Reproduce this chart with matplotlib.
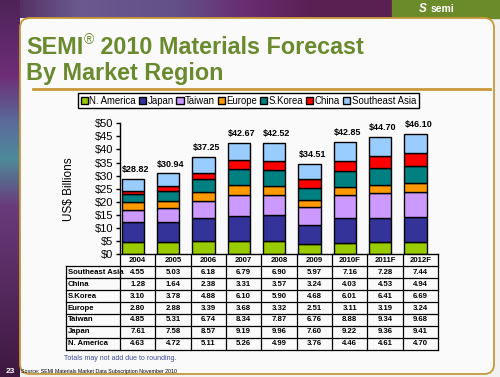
import numpy as np
import matplotlib.pyplot as plt
from matplotlib.patches import FancyBboxPatch, Rectangle
from matplotlib.colors import to_rgb

plt.rcParams['font.family'] = ['Liberation Sans', 'DejaVu Sans']

# data (US$ billions)
years = ['2004', '2005', '2006', '2007', '2008', '2009', '2010F', '2011F', '2012F']
n_america = [4.63, 4.72, 5.11, 5.26, 4.99, 3.76, 4.46, 4.61, 4.70]
japan = [7.61, 7.58, 8.57, 9.19, 9.96, 7.60, 9.22, 9.36, 9.41]
taiwan = [4.85, 5.31, 6.74, 8.34, 7.87, 6.76, 8.88, 9.34, 9.68]
europe = [2.80, 2.88, 3.39, 3.68, 3.32, 2.51, 3.11, 3.19, 3.24]
s_korea = [3.10, 3.78, 4.88, 6.10, 5.90, 4.68, 6.01, 6.41, 6.69]
china = [1.28, 1.64, 2.38, 3.31, 3.57, 3.24, 4.03, 4.53, 4.94]
se_asia = [4.55, 5.03, 6.18, 6.79, 6.90, 5.97, 7.16, 7.28, 7.44]
totals = [28.82, 30.94, 37.25, 42.67, 42.52, 34.51, 42.85, 44.70, 46.10]

regions = ['N. America', 'Japan', 'Taiwan', 'Europe', 'S.Korea', 'China', 'Southeast Asia']
series = [n_america, japan, taiwan, europe, s_korea, china, se_asia]
colors = ['#99cc00', '#333399', '#cc99ff', '#ff9900', '#008080', '#ff0000', '#99ccff']
yticks = [0, 5, 10, 15, 20, 25, 30, 35, 40, 45, 50]

fig = plt.figure(figsize=(5, 3.77), dpi=100)
fig.patch.set_facecolor('#f2f2f2')

# background slide (pixel coords)
bg = fig.add_axes([0, 0, 1, 1], zorder=0)
bg.axis('off')

def gradient(stops, n):
    pos = [s[0] for s in stops]
    cols = np.array([to_rgb(s[1]) for s in stops])
    t = np.linspace(0, 1, n)
    return np.stack([np.interp(t, pos, cols[:, k]) for k in range(3)], axis=-1)

top = gradient([(0, '#4e2458'), (0.2, '#6a5a8e'), (0.45, '#62508a'),
                (0.62, '#6a2e72'), (0.8, '#5a2052'), (1, '#5a2052')], 400)
bg.imshow(top[None, :, :], extent=(0, 392, 18, 0), aspect='auto')
left = gradient([(0, '#4e2458'), (0.2, '#6e2e78'), (0.32, '#5a6a9a'),
                 (0.42, '#4e8a9a'), (0.55, '#6a3a7a'), (1, '#3e1840')], 400)
bg.imshow(left[:, None, :], extent=(0, 20, 377, 0), aspect='auto')
bg.add_patch(Rectangle((392, 0), 108, 18, color='#6b8a2a'))
bg.add_patch(FancyBboxPatch((20, 18), 474, 356, boxstyle='round,pad=0,rounding_size=10',
                            fc='#fafafa', ec='#c8983a', lw=1.3))
bg.set_xlim(0, 500)
bg.set_ylim(377, 0)

# logo
bg.text(431, 8.5, 'semi', color='white', fontsize=7.5, fontweight='bold', ha='left', va='center')
bg.text(423, 8.5, 'S', color='white', fontsize=8.5, fontweight='bold', style='italic', ha='center', va='center')

# title
green = '#6a8a2e'
r = fig.canvas.get_renderer()
t1 = bg.text(26, 54, 'SEMI', fontsize=16.8, fontweight='bold', color=green, va='baseline')
x1 = t1.get_window_extent(r).x1
t2 = bg.text(x1 + 0.5, 44, '®', fontsize=10, color=green, va='baseline')
x2 = t2.get_window_extent(r).x1
bg.text(x2, 54, ' 2010 Materials Forecast', fontsize=16.8, fontweight='bold', color=green, va='baseline')
bg.text(26, 80, 'By Market Region', fontsize=16.8, fontweight='bold', color=green, va='baseline')
bg.plot([33, 490], [89, 89], color='#c8983a', lw=2)

# chart
ax = fig.add_axes([120 / 500, 1 - 254.3 / 377, 318 / 500, 131 / 377], zorder=2)
ax.patch.set_visible(False)
x = np.arange(len(years))
bottom = np.zeros(len(years))
for vals, c, name in zip(series, colors, regions):
    ax.bar(x - 0.14, vals, 0.63, bottom=bottom, color=c, edgecolor='black', lw=1, label=name)
    bottom += np.array(vals)
for xi, top_v, tot in zip(x, bottom, totals):
    ax.text(xi - 0.06, top_v + 1.8, '$%.2f' % tot, ha='center', va='bottom', fontsize=6.5,
            fontweight='bold')
ax.set_xlim(-0.5, len(years) - 0.5)
ax.set_ylim(0, 50)
ax.set_yticks(yticks)
ax.set_yticklabels(['$%d' % v for v in yticks], fontsize=8)
ax.set_xticks([])
ax.tick_params(axis='y', length=3, width=1, pad=2)
for s in ['top', 'right']:
    ax.spines[s].set_visible(False)
ax.spines['left'].set_linewidth(1)
ax.spines['bottom'].set_linewidth(1)
ax.set_ylabel('US$ Billions', fontsize=8.5, labelpad=14)

leg = ax.legend(loc='center', bbox_to_anchor=(248.3 / 500, 1 - 100.5 / 377), bbox_transform=fig.transFigure,
                ncol=7, fontsize=6.9, handlelength=0.75, handleheight=0.8, handletextpad=0.15,
                columnspacing=0.3, borderpad=0.3, borderaxespad=0, fancybox=False, framealpha=1,
                edgecolor='black')
leg.get_frame().set_linewidth(1)

# data table under the chart
x0, x_end = 120, 438
colw = (x_end - x0) / len(years)
lab_x = 66
y_top, hdr_h, row_h = 254.3, 12.0, 11.93
rows = list(zip(regions, series))[::-1]
y_bot = y_top + hdr_h + row_h * len(rows)
lw = 0.9
for i in range(len(years) + 1):
    bg.plot([x0 + i * colw] * 2, [y_top, y_bot], color='black', lw=lw)
bg.plot([lab_x, lab_x], [y_top + hdr_h, y_bot], color='black', lw=lw)
for j in range(len(rows) + 1):
    bg.plot([lab_x, x_end], [y_top + hdr_h + j * row_h] * 2, color='black', lw=lw)
for i, yr in enumerate(years):
    bg.text(x0 + (i + 0.5) * colw, y_top + hdr_h / 2, yr, ha='center', va='center',
            fontsize=5.6, fontweight='bold')
for j, (name, vals) in enumerate(rows):
    yc = y_top + hdr_h + (j + 0.5) * row_h
    bg.text(lab_x + 2, yc, name, ha='left', va='center', fontsize=5.6, fontweight='bold')
    for i, v in enumerate(vals):
        bg.text(x0 + (i + 0.5) * colw, yc, '%.2f' % v, ha='center', va='center',
                fontsize=5.6, fontweight='bold')

# footnotes
bg.text(64, 358.5, 'Totals may not add due to rounding.', fontsize=5, color='#3c4c9c', va='center')
bg.text(21, 371.7, 'Source: SEMI Materials Market Data Subscription November 2010', fontsize=3.8,
        color='black', va='center')
bg.text(10, 371.7, '23', fontsize=6, fontweight='bold', color='white', ha='center', va='center')

fig.savefig('out.png', dpi=100)
